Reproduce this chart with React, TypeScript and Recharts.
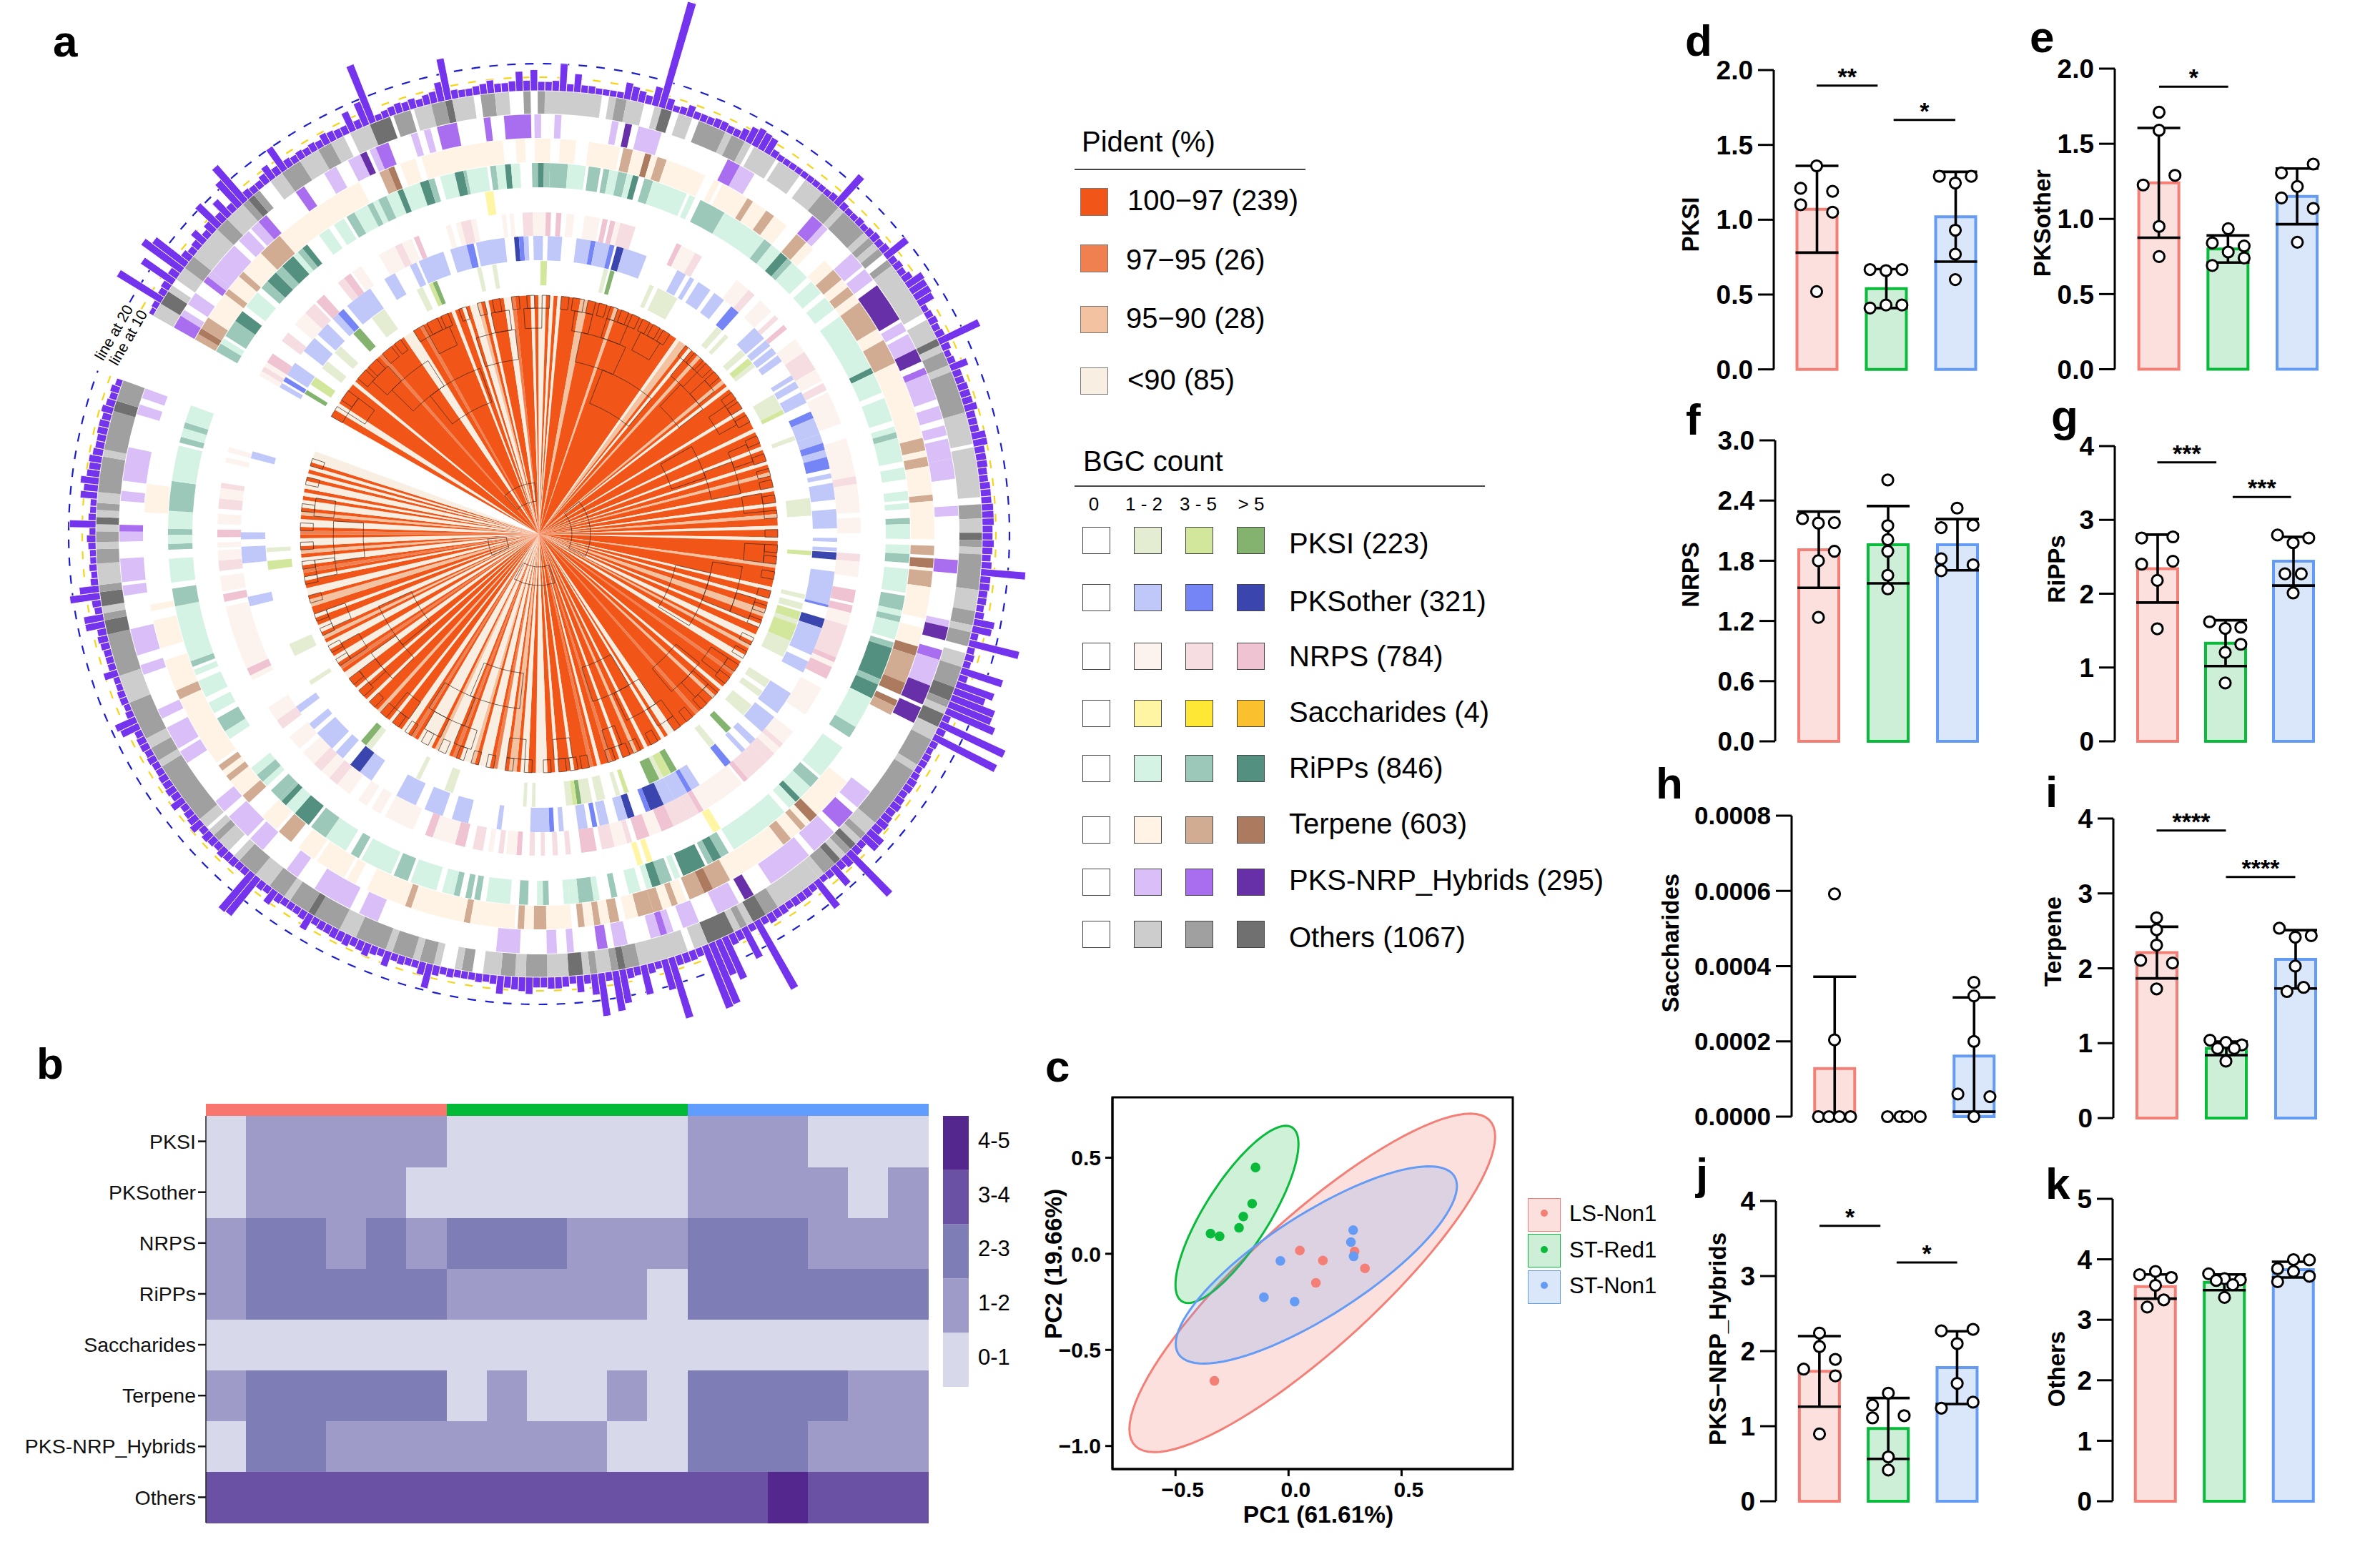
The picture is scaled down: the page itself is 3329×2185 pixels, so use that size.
import React from 'react';
import { PieChart, Pie, Cell, Sector, ComposedChart, Bar, Scatter, XAxis, YAxis, ErrorBar, ReferenceLine, ReferenceArea, ScatterChart, BarChart } from 'recharts';

const FONT = '"Liberation Sans", Arial, sans-serif';
const LEAVES = 378;
const START_ANGLE = 150.5;
const SWEEP = 350.8;

// ---------- panel a: tree tips (clockwise leaf ranges [from, to, level]) ----------
const pidentColors = ['#F15518', '#F08050', '#F3C2A0', '#F8EFE2'];
const pidentLabels = ['100−97 (239)', '97−95 (26)', '95−90 (28)', '<90 (85)'];

const treeSegs = [[2,4,3],[10,11,3],[20,21,1],[28,31,3],[33,34,1],[42,43,3],[45,46,3],[47,49,3],[49,50,2],[51,52,3],[56,58,3],[58,59,1],[63,64,3],[65,67,3],[68,69,3],[70,71,3],[76,78,2],[85,86,2],[103,104,3],[104,106,2],[107,108,3],[110,111,2],[119,120,2],[121,122,3],[128,129,3],[134,135,3],[139,140,3],[143,144,3],[146,147,2],[150,151,3],[154,155,3],[157,158,2],[160,161,3],[163,164,3],[170,171,2],[176,177,3],[179,180,3],[182,184,2],[186,187,3],[189,191,3],[192,193,2],[195,197,3],[200,201,1],[205,206,3],[208,209,2],[214,215,1],[222,224,3],[225,226,3],[230,231,3],[233,234,2],[237,238,3],[240,241,1],[243,244,3],[245,246,1],[250,251,3],[254,255,3],[257,260,3],[262,264,3],[265,267,2],[268,270,3],[270,271,1],[272,275,3],[276,277,2],[277,280,3],[281,282,1],[283,286,3],[286,287,2],[288,292,3],[293,294,1],[295,297,3],[300,301,3],[304,305,2],[308,309,3],[312,313,3],[316,318,3],[319,320,1],[321,323,3],[325,327,3],[328,329,2],[330,332,3],[334,335,3],[337,339,2],[340,342,3],[344,345,3],[346,347,1],[348,350,3],[351,352,2],[353,355,3],[356,357,1],[358,360,3],[361,362,2],[363,365,3],[366,367,3],[368,370,3],[371,372,3],[373,374,3],[375,378,3]];

// dendrogram branches, as leaf ranges
const dendroTips = [[0,3],[5,8],[12,15],[16,19],[21,24],[25,27],[31,34],[35,38],[39,41],[44,46],[49,51],[53,55],[58,60],[62,64],[66,68],[71,73],[74,77],[78,80],[81,83],[84,86],[87,89],[90,92],[93,95],[96,98],[99,101],[106,108],[109,112],[113,115],[116,118],[123,125],[126,128],[130,132],[136,138],[141,143],[145,147],[148,150],[152,154],[156,158],[161,163],[165,167],[168,170],[172,174],[177,179],[181,183],[185,187],[190,192],[194,196],[198,200],[202,204],[207,209],[211,213],[216,218],[220,222],[227,229],[232,234],[235,237],[239,241],[246,248],[249,251],[252,254],[256,258],[261,263],[266,268],[271,273],[275,277],[279,281],[284,286],[289,291],[294,296],[298,300],[302,304],[306,308],[310,312],[314,316],[320,322],[324,326],[329,331],[333,335],[338,340],[343,345],[347,349],[352,354],[357,359],[362,364],[369,371],[374,376]];
const dendroMid = [[3,8],[14,20],[34,40],[52,57],[61,66],[75,80],[84,90],[94,100],[108,113],[116,120],[125,131],[137,142],[151,156],[165,170],[180,186],[198,203],[207,212],[220,225],[236,240],[250,255],[263,268],[278,283],[287,292],[297,302],[311,316],[320,325],[330,335],[344,349],[361,366]];
const dendroDeepA = [[16,30],[46,58],[78,92],[112,122],[140,150],[172,186],[204,216],[222,232],[282,294],[308,318],[348,360]];
const dendroDeepB = [[24,44],[88,108],[130,142],[176,196],[226,240],[266,284],[314,330]];
const dendroRoot = [[20,60],[120,190],[240,290],[330,350]];

// ---------- panel a: BGC rings, [from, to, level] by leaf index ----------
const ringPKSI = [[1.5,2.5,3],[4,6,2],[8.5,10.5,1],[13,15,1],[19,21,3],[24.5,28,1],[36.5,38,1],[39.5,40.5,2],[40.5,41.5,3],[51,52,1],[54.5,55.5,1],[65.5,67,2],[80,81,1],[81.5,82.5,3],[91,92,1],[93,98,1],[109,110.5,1],[111.5,112.5,1],[116.5,118,1],[119,120.5,2],[120.5,121.5,1],[129,133,1],[133,134,2],[139.5,140.5,1],[154,158,1],[166,167,2],[176,177,1],[178,179.5,1],[180,182,2],[182,183,1],[183,187,2],[187,191,1],[197,199,1],[200,201.5,1],[204,207,1],[211,212.5,3],[216,217.5,1],[226.5,228,3],[228,230,2],[230,231,1],[231,233.5,3],[238.5,239.5,2],[240.5,241.5,1],[244,246,1],[247,249.5,1],[249.5,250.5,3],[250.5,251.5,2],[251.5,253,1],[260,260.8,1],[262,262.8,1],[279,281,1],[287,288,1],[300,301.5,1],[301.5,303,3],[320,321,1],[327.5,330.5,1],[348,350,2],[352,353,1]];
const ringPKSother = [[0,1,1],[1.5,2.5,2],[3,6,1],[9,12.5,1],[13.5,16.5,1],[18,19.5,1],[19.5,21,2],[22,28,1],[31.5,34,1],[37.5,39,1],[39.5,45,1],[46.5,50,1],[50,51.5,2],[52,58,1],[60,61,3],[61,62,2],[62,63,1],[64,66,1],[67,70,1],[73,76,1],[76,77,2],[77,80,1],[80,81,2],[81.5,83,3],[83,88,1],[95,97,1],[98,99,1],[100,103,1],[104,106.5,1],[108.5,110.5,2],[115,118,1],[118.5,120,1],[120.5,122,1],[122.5,124,1],[127.5,128.5,1],[129,130.5,1],[131.5,134,1],[136,137.5,2],[137.5,141,1],[141,143,1],[143,144.5,2],[144.5,146,1],[146,148.5,2],[149.5,150.5,1],[151.5,155,1],[157,161,1],[163,163.8,1],[165,165.8,1],[166,167.5,3],[170,177,1],[176,177.5,2],[180,182,3],[182,188,1],[189.5,192,1],[197,202,1],[203,207,1],[209,210.5,1],[212,213,1],[216,217.5,2],[224,226,1],[226,227,2],[227,230,1],[230,232.5,1],[232.5,235.5,3],[235.5,236.5,2],[239,240.5,3],[240.5,242.5,1],[244.5,246.5,1],[247,248,2],[249,251,1],[254,255,1],[256,257,2],[257,261,1],[267,268,1],[274,277.5,1],[279.5,283.5,1],[285.5,290,1],[296,299,1],[299,301.5,3],[303.5,305.5,1],[306.5,311,1],[312,313.5,1],[316.5,318,1],[341,343,1],[350,353.5,1],[355,356.5,1],[372,373.5,1]];
const ringNRPS = [[0,1,1],[1,2,2],[2,3,1],[3,5,3],[8,10,2],[12,15,1],[15,17.5,2],[18,20,3],[23.5,25,2],[25,26.5,3],[27,29,1],[33,36.5,1],[36.5,38,2],[38,40,1],[40.5,41.5,3],[47,48,1],[49,50,1],[50,52,2],[52,53,1],[58,58.8,1],[59.5,60.3,1],[62,64,2],[64,66.5,1],[66.5,67.5,3],[68.5,69.5,3],[70.5,72,1],[74,77,1],[77.5,78.5,3],[79,80,3],[80,81,1],[81,84,2],[92.5,93.5,3],[93.5,96.5,1],[96.5,98,2],[106,109,1],[109,110.5,2],[112,115,1],[116,117,2],[118.5,119.5,3],[122,125,1],[125,129,2],[129,131.5,1],[132,133.5,2],[134,140.5,1],[143.5,151,1],[151,152.5,2],[152.5,158,1],[159,162,1],[166,167.5,2],[167.5,170.5,1],[173,175.5,3],[176,177.5,3],[177.5,180,1],[180,186.5,2],[186.5,187.5,3],[187.5,188.5,1],[188.5,191,3],[193,199,1],[203,206,1],[206,207,2],[207,208.5,1],[208.5,210.5,2],[210.5,212,2],[212,215.5,2],[215.5,216.5,3],[217,226,1],[226,227,3],[227,229,2],[229,232.5,2],[232.5,235,3],[235,237.5,1],[237.5,240,3],[241,242,2],[242,244.5,1],[244.5,247,2],[248,251,3],[253,254,2],[255.5,256.5,2],[258,258.8,2],[260,261,2],[262.5,263.5,3],[263.5,265.5,1],[266,267,2],[268,269,1],[270,272,2],[273.5,275.5,3],[275.5,280,1],[280,281.5,3],[284,290,1],[291,293,1],[294,296,1],[298,301,1],[301,303,2],[303,305,1],[305,307,2],[307,310,1],[311,314,1],[316,318,2],[318,321,1],[327,328,1],[328,329.5,3],[329.5,331,1],[331,342,1],[343,344.5,3],[345,348,1],[349,351,2],[351,353,1],[353.5,354.5,1],[355.5,357,3],[358,360,1],[361,363,2],[363,365,1],[365,366,2],[370,371,1],[372,373,1]];
const ringSaccharides = [[55.5,57,1],[225,226.5,1],[238.5,239.5,1],[240.3,241.3,1]];
const ringRiPPs = [[0,1.5,2],[1.5,2.5,1],[3,6,2],[6,8,3],[9,12,1],[13,14.5,2],[14.5,16.5,3],[16.5,18,2],[18,20.5,3],[20.5,21.5,1],[21.5,22.5,2],[22.5,23.5,3],[26,28,1],[29,31,1],[31.5,33,2],[33,35.5,1],[35.5,36.5,2],[36.5,37.5,1],[37.5,39,2],[39,41,1],[41,42,3],[42,45,1],[45,46.5,3],[46.5,47.5,2],[48.5,51,1],[51,52.5,3],[52.5,53,2],[53,56.5,1],[57,58,2],[58,59.5,1],[59.5,60.5,3],[60.5,62,1],[64,65,2],[65,66,3],[66,67,2],[67,70,2],[70,73,1],[73.5,75.5,2],[76,77,2],[77,78.5,1],[78.5,80,2],[80,81,1],[81,82,3],[83,84.5,2],[84.5,90.5,1],[91,92,1],[93,97.5,2],[97.5,105.5,1],[105.5,107,2],[107,109,1],[109,110.5,3],[110.5,111.5,2],[111.5,115,1],[116,118.5,1],[119.5,122,1],[123.5,133.5,1],[133.5,134.5,3],[134.5,138,1],[139,143,1],[144,145,1],[145,146,2],[146,150,1],[151,153,1],[155,156.5,1],[157,158,1],[159.5,160.5,2],[160.5,163,1],[164,165.5,1],[165.5,167,2],[168,172,1],[172.5,175,2],[175,176,1],[176,177,2],[177,180,1],[180.5,181.5,2],[181.5,187,3],[187,188,2],[188,190.5,3],[190.5,196,1],[196,198,2],[200,206,1],[206.5,208.5,2],[208.5,211,1],[211,212,3],[212,213.5,1],[214.5,225,1],[226,227.5,2],[227.5,229,3],[229,230,2],[230.5,234.5,3],[235,236,1],[236.5,238.5,2],[238.5,240,3],[240,241,1],[242,244,1],[246,247,2],[249,250,1],[250,252.5,2],[252.5,254,1],[254,255,1],[257.5,258.5,2],[258.5,259.5,1],[261,262.5,2],[264,268,1],[269,270,2],[270.5,271.5,2],[272.5,273.5,2],[273.5,274.5,1],[274.5,275.5,1],[276.5,281,1],[281.5,284,2],[284.5,290,1],[290.5,292,2],[293,297,1],[297,300,2],[300.5,303.5,3],[303.5,305.5,1],[305.5,306.5,3],[306.5,307,2],[307,309,2],[310,311,1],[311,312.5,2],[312.5,314,1],[321.5,324,2],[320,321.5,1],[325,327,1],[328,331,1],[332,333,1],[333.5,334.5,2],[334.5,344,1],[344,347,2],[348,352,1],[353.5,354.5,2],[354.5,356,1],[356,357,2],[357,360,1],[360,365,2],[365,371,1],[371.5,372.5,2],[372.5,374,1],[374,375,2],[375,378,1]];
const ringTerpene = [[0,1,2],[1,2,3],[2,4,2],[4,8.5,1],[8.5,9.5,2],[9.5,12,1],[12,13,2],[13,17,1],[17,21,2],[21,36,1],[39.5,41,2],[41,42,3],[43,45.5,1],[46.5,58,1],[58,59.5,1],[61.5,63,1],[64.5,67,1],[68.5,71,1],[73,78,1],[78.5,80,2],[80,82,1],[82,83,3],[83,84,1],[84,85.5,2],[85.5,92,1],[93.5,94.5,1],[95,99.5,1],[99.5,100.5,2],[100.5,103,1],[103,104.5,2],[104.5,107,1],[109,111,2],[111,112.5,1],[115,117,1],[117,119,2],[119,120.5,1],[120.5,122,2],[122,123.5,1],[123.5,128.5,2],[128.5,130.5,1],[130.5,134.5,2],[134.5,136.5,1],[136.5,147,1],[147,149,2],[149,150,1],[150,151.5,2],[151.5,156,1],[156,157,2],[157,163,1],[164,165.5,2],[166,167.5,3],[167.5,168,1],[168,170.5,2],[170.5,175.5,1],[177,180,1],[180,181.5,3],[181.5,186,2],[186,188,3],[189,190,3],[190,191.5,2],[204,211,1],[211,212.5,3],[212.5,213.5,1],[213.5,214.5,2],[214.5,216.5,1],[216.5,218,2],[218,228,1],[228,231,2],[231,232.5,3],[232.5,235,2],[235.5,237,1],[237,238,2],[238,239.5,1],[239.5,241,2],[241,243.5,2],[243.5,245.5,1],[246.5,248,2],[248,249.5,1],[249.5,250.5,2],[250.5,252,1],[252,253,2],[254,258,1],[258,260,2],[260,261.5,1],[261.5,262.5,2],[263,270,1],[270,271,2],[271,279.5,1],[279.5,280.5,2],[280.5,287,1],[289,290.5,1],[291,296,1],[296.5,299.5,1],[301,303.5,2],[304,307,1],[310,311.5,2],[311.5,314.5,1],[314.5,315.5,2],[315.5,316.5,1],[316.5,317.5,2],[318,329.5,1],[329.5,331,2],[331,336,1],[338,342.5,1],[344,345,1],[359.5,364,1]];
const ringHybrids = [[0,2,2],[2,3,1],[4,6,1],[8,9,2],[9,10,1],[10,15,1],[16,18,1],[18.5,20,1],[20,21.5,2],[27,28.5,2],[32,34,1],[36,38,1],[38,39,3],[39.5,40.5,1],[40.5,42.5,2],[46,47,1],[48,49,1],[50,53,2],[57,58,2],[60,64,2],[64.5,65.5,1],[67.5,68.5,1],[76,77,1],[78,79,3],[80,83.5,1],[94,96,2],[96,98.5,1],[109,111,2],[111,112,1],[117,119.5,1],[120,122,1],[123,129,3],[129.5,131,1],[131.5,134,1],[134,136,3],[137,138,2],[138,142,1],[143,145,1],[146,147.5,1],[148,151,1],[151,154,1],[158,159.5,1],[166,168,2],[175,176,1],[176,178,3],[179.5,181,2],[181,185,1],[185,188,3],[188.5,191,3],[203,206,1],[207,210,2],[211,215,1],[216,223,1],[226,227.5,3],[228.5,232,1],[235,237.5,1],[239,240,1],[240,241,2],[241,242.5,1],[246,248,1],[249,250.5,2],[254,255,1],[256.5,258,1],[262,265.5,1],[283.5,286.5,1],[288,294,1],[297,299,1],[303.5,306,1],[306.5,310.5,1],[311.5,313.5,1],[320.5,322.5,1],[323,326.5,1],[328,329.5,1],[335,336.5,1],[338,342,1],[347,348.5,1],[349,352.5,1],[355,356.5,1],[356.5,357.5,2],[361,362.5,1],[364,369,1],[374,375.5,1],[376.5,378,1]];
const ringOthers = [[0,2,1],[2,4,3],[4,5,1],[6,8,1],[8,10,2],[10,15,1],[15,17,2],[17,20,1],[20,21,2],[21,22,3],[22,23,2],[25,27,1],[27,30,2],[30,33,1],[33,35,2],[35,37,1],[38,41,1],[41,44,3],[44.5,47,2],[47.5,50,1],[50,52,2],[52,53,3],[53,56,1],[57,59,2],[59,61,1],[63,64,2],[65,66,2],[66,74,1],[75,76,1],[76,77.5,2],[77.5,80,1],[81.5,82.5,1],[82.5,84,3],[85,87,1],[88,92,2],[92,93,1],[93,95,2],[95,96,1],[96.5,100,1],[100.5,104,1],[105,108,1],[108,111,2],[111,112,1],[112,116,2],[116,117,1],[117,118,2],[118,119,1],[119,120,2],[121,122,2],[122,130,1],[131,134,1],[134,135,3],[135,136,1],[136,138,2],[138,139,1],[139,145,2],[145,149.5,1],[150,157,1],[158,160,2],[160,162,1],[162,163,3],[163,164,2],[164,165,1],[165,170,2],[170,173,1],[173,175,2],[175,176,1],[176,178,2],[179,181,1],[181,184,2],[184,186,3],[186,187,2],[187,188,1],[188,190,3],[190,192,1],[192,196,2],[196,197,1],[197,206,2],[206,208,1],[208,209,2],[209,210,1],[210,211,3],[211,212,2],[212,213,1],[213,214,3],[214,216,2],[216,217,1],[217,224,1],[224,226,2],[226,228,3],[228,229,1],[229,230,2],[230,231,1],[231,235,3],[235,237,1],[238,245,1],[245,247,2],[247,248,3],[248,249,2],[249,251,1],[251,252,2],[252,253,1],[253,255,3],[255,258,1],[258,261,2],[261,262.5,1],[262.5,264.5,2],[264.5,267,1],[268.5,270,2],[270,271,1],[273,274,1],[274,276,2],[276,277,1],[277,280,2],[280,281,1],[281,285.5,2],[285.5,288,1],[288,292,2],[292,293,3],[293,296,2],[296,297,1],[297,299.5,2],[299.5,302,1],[302,305,2],[305,306,1],[307,309,1],[309,310,2],[310,311,1],[311.5,313,1],[313,322,2],[322,323,1],[323,325,2],[325,326.5,1],[326.5,332,2],[332,336,1],[336,342,2],[342,344,3],[344,345,2],[345,346,1],[346,348,3],[348,349,2],[349,352,1],[352,354,2],[354,355,1],[355,356.5,2],[356.5,357.5,1],[357.5,358.5,3],[358.5,359.5,1],[359.5,360.5,2],[360.5,362,1],[362,367,2],[367,368,1],[368,373.5,2],[373.5,375,3],[375,378,2]];

const barHeights = [
  4,5,39,6,7,29,8,37,31,8,6,7,12,6,9,23,8,16,7,25,
  35,7,6,6,8,12,7,21,7,6,7,6,7,6,9,8,7,7,16,7,
  19,47,5,6,7,8,7,8,6,8,9,15,32,7,6,6,7,8,10,7,
  7,8,15,8,16,7,7,8,21,6,14,6,6,5,5,5,5,13,11,9,
  7,15,83,9,5,6,9,6,6,6,7,7,6,6,9,13,15,14,13,6,
  5,5,5,5,5,5,5,5,5,6,29,6,5,5,6,5,6,7,6,7,
  21,6,7,6,8,15,14,14,13,5,6,7,6,7,34,7,5,6,14,7,
  7,8,8,8,10,7,7,7,11,11,8,8,8,7,7,8,8,8,9,9,
  9,8,8,9,8,7,8,34,8,8,7,7,6,7,16,15,6,39,6,7,
  6,33,7,30,25,35,35,40,6,54,7,53,6,5,6,6,5,6,7,7,
  6,7,8,7,8,9,8,14,14,6,7,45,9,7,18,6,5,26,6,7,
  7,7,6,7,7,8,6,59,6,26,8,9,35,29,50,51,7,8,8,8,
  48,24,6,8,23,7,8,26,31,7,33,16,7,13,6,8,9,9,8,8,
  13,11,10,9,14,7,6,7,6,6,6,7,6,8,19,10,6,6,7,6,
  12,6,7,10,8,7,9,8,8,7,7,6,13,7,6,6,6,7,12,6,
  7,36,37,6,6,7,7,8,6,7,8,6,10,8,7,6,11,7,8,7,
  7,6,6,7,6,7,7,6,15,17,6,5,6,6,5,5,11,6,6,6,
  7,8,7,15,15,6,7,23,15,6,5,6,5,5,6,7,5,20,6,5,
  5,13,11,14,10,9,10,8,7,7,8,8,7,9,7,6,7,5,
];

const rings = [
  { name: 'PKSI (223)', segs: ringPKSI, inner: 348, outer: 382, colors: ['#E4ECD2', '#D2E79B', '#83B36F'] },
  { name: 'PKSother (321)', segs: ringPKSother, inner: 383, outer: 417, colors: ['#BFC8F8', '#7585F5', '#3A45AE'] },
  { name: 'NRPS (784)', segs: ringNRPS, inner: 417, outer: 450, colors: ['#FCF3EF', '#F5DDE1', '#EFC3D2'] },
  { name: 'Saccharides (4)', segs: ringSaccharides, inner: 451, outer: 484, colors: ['#FFF5A3', '#FFE835', '#FBC02D'] },
  { name: 'RiPPs (846)', segs: ringRiPPs, inner: 485, outer: 519, colors: ['#D4F3E4', '#9BC8B9', '#54907F'] },
  { name: 'Terpene (603)', segs: ringTerpene, inner: 520, outer: 553, colors: ['#FFF3E5', '#D2AC92', '#AC7A5E'] },
  { name: 'PKS-NRP_Hybrids (295)', segs: ringHybrids, inner: 554, outer: 587, colors: ['#D9BEF8', '#A96EEF', '#6830A8'] },
  { name: 'Others (1067)', segs: ringOthers, inner: 588, outer: 620, colors: ['#CDCDCD', '#A0A0A0', '#707070'] },
];

function toRuns(segs: number[][]) {
  const sorted = [...segs].sort((a, b) => a[0] - b[0]);
  const out: { v: number; l: number }[] = [];
  let cursor = 0;
  for (const [from, to, level] of sorted) {
    const f = Math.max(from, cursor);
    if (to <= f) continue;
    if (f > cursor) out.push({ v: f - cursor, l: 0 });
    out.push({ v: to - f, l: level });
    cursor = to;
  }
  if (cursor < LEAVES) out.push({ v: LEAVES - cursor, l: 0 });
  return out;
}
const mark = (segs: number[][]) => toRuns(segs.map(([a, b]) => [a, b, 1]));

// tree fill: level 0 there is the dominant orange, so levels are offset
const treeRuns = toRuns(treeSegs.map(([a, b, c]) => [a, b, c + 1])).map((r) => ({ v: r.v, l: r.l === 0 ? 0 : r.l - 1 }));

const barData = barHeights.map((h, i) => ({ v: 1, h, i }));
const BASE_R = 620;
const PX_PER_UNIT = 1.85;

const polar = { cx: 754, cy: 747, startAngle: START_ANGLE, endAngle: START_ANGLE - SWEEP, isAnimationActive: false, dataKey: 'v', legendType: 'none' as const, paddingAngle: 0 };

const dendroLevels = [
  { d: dendroTips, a: 316, b: 334 },
  { d: dendroMid, a: 288, b: 316 },
  { d: dendroDeepA, a: 246, b: 288 },
  { d: dendroDeepB, a: 196, b: 246 },
  { d: dendroRoot, a: 46, b: 72 },
];

function guideArc(color: string, dash: string) {
  return (p: any) => {
    const rad = Math.PI / 180;
    const r = p.outerRadius;
    const x0 = p.cx + r * Math.cos(-p.startAngle * rad);
    const y0 = p.cy + r * Math.sin(-p.startAngle * rad);
    const x1 = p.cx + r * Math.cos(-p.endAngle * rad);
    const y1 = p.cy + r * Math.sin(-p.endAngle * rad);
    return <path d={`M${x0},${y0}A${r},${r} 0 1 1 ${x1},${y1}`} fill="none" stroke={color} strokeWidth={2.2} strokeDasharray={dash} />;
  };
}

function CircularTree() {
  return (
    <div style={{ position: 'absolute', left: 0, top: 0 }}>
      <PieChart width={1500} height={1500} margin={{ top: 0, left: 0, right: 0, bottom: 0 }}>
        <Pie {...polar} data={treeRuns} innerRadius={0} outerRadius={334} stroke="none">
          {treeRuns.map((r, i) => <Cell key={i} fill={pidentColors[r.l]} stroke="none" />)}
        </Pie>
        {dendroLevels.map((lv, k) => {
          const runs = mark(lv.d);
          return (
            <Pie key={k} {...polar} data={runs} innerRadius={lv.a} outerRadius={lv.b} fill="none" stroke="none">
              {runs.map((r, i) => <Cell key={i} fill="none" stroke={r.l ? '#3a2415' : 'none'} strokeWidth={0.7} />)}
            </Pie>
          );
        })}
        {rings.map((ring) => {
          const runs = toRuns(ring.segs);
          return (
            <Pie key={ring.name} {...polar} data={runs} innerRadius={ring.inner} outerRadius={ring.outer} stroke="none">
              {runs.map((r, i) => <Cell key={i} fill={r.l ? ring.colors[r.l - 1] : 'none'} stroke="none" />)}
            </Pie>
          );
        })}
        <Pie {...polar} data={[{ v: 1 }]} innerRadius={639} outerRadius={639} fill="none" stroke="none" shape={guideArc('#F7D417', '11 14')} />
        <Pie {...polar} data={[{ v: 1 }]} innerRadius={658} outerRadius={658} fill="none" stroke="none" shape={guideArc('#1D1DD0', '12 13')} />
        <Pie
          {...polar}
          data={barData}
          innerRadius={BASE_R}
          outerRadius={BASE_R + 10}
          fill="#7434EE"
          stroke="#fff"
          strokeWidth={0.9}
          shape={(p: any) => {
            const h = p.h ?? p.payload?.h ?? 0;
            return <Sector {...p} fill="#7434EE" stroke="#fff" strokeWidth={0.9} outerRadius={BASE_R + h * PX_PER_UNIT} />;
          }}
        />
      </PieChart>
    </div>
  );
}

// ---------- panels d–k ----------
const GROUPS = ['LS-Non1', 'ST-Red1', 'ST-Non1'];
const GROUP_STROKE = ['#F47F77', '#09BA3B', '#649BF5'];
const GROUP_FILL = ['#FCE0DE', '#CDEFD7', '#DAE7FB'];

const panelD = { title: 'PKSI', max: 2, ticks: [0, 0.5, 1, 1.5, 2], dec: 1, axisX: 2481, y0: 516.5, top: 97.8, xEnd: 2798, c0: 2541, band: 97, labelX: 2364, labelY: 314,
  mean: [1.07, 0.54, 1.02], low: [0.29, 0.13, 0.3], high: [0.29, 0.13, 0.3],
  pts: [[[0,1.36],[-0.23,1.21],[0.23,1.19],[-0.23,1.1],[0.23,1.05],[0,0.52]], [[-0.23,0.667],[0,0.66],[0.23,0.667],[-0.23,0.41],[0,0.43],[0.23,0.43]], [[-0.23,1.29],[0,1.245],[0.23,1.29],[0,0.93],[0,0.77],[0,0.6]]],
  sig: [[0,0.88,1.896,'**'],[1.11,2,1.667,'*']] };
const panelE = { title: 'PKSother', max: 2, ticks: [0, 0.5, 1, 1.5, 2], dec: 1, axisX: 2958, y0: 516.5, top: 96, xEnd: 3275.6, c0: 3020, band: 96.7, labelX: 2856, labelY: 312,
  mean: [1.24, 0.8, 1.15], low: [0.365, 0.09, 0.185], high: [0.365, 0.09, 0.185],
  pts: [[[0,1.71],[0,1.59],[0.23,1.29],[-0.23,1.226],[0,0.95],[0,0.75]], [[0,0.935],[-0.23,0.84],[0.23,0.82],[0,0.78],[-0.23,0.69],[0.23,0.74]], [[0.23,1.365],[-0.23,1.306],[0,1.216],[-0.23,1.14],[0.23,1.07],[0,0.845]]],
  sig: [[0,1,1.88,'*']] };
const panelF = { title: 'NRPS', max: 3, ticks: [0, 0.6, 1.2, 1.8, 2.4, 3], dec: 1, axisX: 2482.5, y0: 1037, top: 616, xEnd: 2800, c0: 2543, band: 97, labelX: 2364, labelY: 804,
  mean: [1.91, 1.96, 1.96], low: [0.38, 0.385, 0.255], high: [0.38, 0.385, 0.255],
  pts: [[[-0.23,2.22],[0,2.175],[0.23,2.18],[0.23,1.895],[0,1.8],[0,1.235]], [[0,2.605],[0,2.15],[0,2.01],[0,1.895],[0,1.655],[0,1.52]], [[0,2.325],[-0.23,2.13],[0.23,2.155],[-0.23,1.82],[0.23,1.76],[-0.23,1.7]]],
  sig: [] };
const panelG = { title: 'RiPPs', max: 4, ticks: [0, 1, 2, 3, 4], dec: 0, axisX: 2957.5, y0: 1037, top: 624, xEnd: 3269, c0: 3017, band: 95, labelX: 2876, labelY: 795.5,
  mean: [2.34, 1.33, 2.44], low: [0.46, 0.31, 0.33], high: [0.46, 0.31, 0.33],
  pts: [[[-0.23,2.755],[0.23,2.77],[-0.23,2.4],[0.23,2.44],[0,2.18],[0,1.525]], [[-0.23,1.62],[0,1.53],[0.23,1.545],[0.23,1.315],[0,1.205],[0,0.79]], [[-0.23,2.795],[0.23,2.755],[0,2.69],[-0.12,2.27],[0.12,2.27],[0,2.01]]],
  sig: [[0,0.87,3.78,'***'],[1.11,1.97,3.31,'***']] };
const panelH = { title: 'Saccharides', max: 0.0008, ticks: [0, 0.0002, 0.0004, 0.0006, 0.0008], dec: 4, axisX: 2506, y0: 1562, top: 1141, xEnd: 2823, c0: 2566, band: 97.5, labelX: 2336, labelY: 1318.6,
  mean: [0.000128, 0, 0.000161], low: [0.000128, 0, 0.000148], high: [0.000244, 0, 0.000156],
  pts: [[[0,0.000592],[0,0.000204],[-0.23,0],[-0.08,0],[0.07,0],[0.23,0]], [[-0.24,0],[-0.06,0],[0.04,0],[0.23,0]], [[0,0.000357],[0,0.000321],[0,0.0002],[-0.23,0.00006],[0.23,0.000053],[0,0]]],
  sig: [], fontSize: 35 };
const panelI = { title: 'Terpene', max: 4, ticks: [0, 1, 2, 3, 4], dec: 0, axisX: 2955.5, y0: 1564, top: 1145, xEnd: 3271, c0: 3016, band: 97, labelX: 2871, labelY: 1316.5,
  mean: [2.21, 0.93, 2.12], low: [0.345, 0.09, 0.39], high: [0.345, 0.09, 0.39],
  pts: [[[0,2.675],[0,2.515],[0,2.31],[-0.23,2.107],[0.23,2.07],[0,1.725]], [[-0.23,1.04],[0,1.01],[0.23,0.977],[-0.12,0.93],[0.12,0.93],[0,0.76]], [[-0.23,2.535],[0.23,2.435],[0,2.415],[0,2.03],[0.12,1.745],[-0.12,1.69]]],
  sig: [[0,1,3.84,'****'],[1,2,3.22,'****']] };
const panelJ = { title: 'PKS−NRP_Hybrids', max: 4, ticks: [0, 1, 2, 3, 4], dec: 0, axisX: 2484, y0: 2100, top: 1680, xEnd: 2800, c0: 2545, band: 96.3, labelX: 2402, labelY: 1873,
  mean: [1.73, 0.97, 1.78], low: [0.47, 0.405, 0.485], high: [0.47, 0.405, 0.485],
  pts: [[[0,2.24],[0,2.06],[0.23,1.89],[-0.23,1.76],[0.23,1.67],[0,0.896]], [[0,1.44],[-0.23,1.28],[-0.23,1.11],[0.23,1.14],[0,0.59],[0,0.415]], [[-0.23,2.27],[0.23,2.29],[0,2.1],[0,1.57],[0.23,1.32],[-0.23,1.24]]],
  sig: [[0,0.885,3.67,'*'],[1.12,2,3.18,'*']] };
const panelK = { title: 'Others', max: 5, ticks: [0, 1, 2, 3, 4, 5], dec: 0, axisX: 2955, y0: 2100, top: 1677, xEnd: 3271, c0: 3015, band: 96.5, labelX: 2876, labelY: 1915,
  mean: [3.55, 3.62, 3.83], low: [0.2, 0.13, 0.13], high: [0.2, 0.13, 0.13],
  pts: [[[0,3.8],[-0.23,3.745],[0.23,3.7],[0,3.57],[0.12,3.33],[-0.12,3.21]], [[-0.23,3.76],[0,3.68],[0.23,3.66],[-0.12,3.65],[0.12,3.58],[0,3.37]], [[0,3.995],[0.23,3.99],[-0.23,3.845],[0,3.8],[0.23,3.72],[-0.23,3.63]]],
  sig: [] };

function T({ x, y, size, weight, rotate, anchor, color, children }: any) {
  const tx = anchor === 'center' ? '-50%' : anchor === 'right' ? '-100%' : '0';
  return (
    <div style={{ position: 'absolute', left: x, top: y, transform: `translate(${tx},-50%) rotate(${rotate || 0}deg)`, fontFamily: FONT, fontSize: size, fontWeight: weight || 400, color: color || '#000', whiteSpace: 'nowrap', lineHeight: 1 }}>
      {children}
    </div>
  );
}

const MARGIN_L = 200;
const Dot = (p: any) => <circle cx={p.cx} cy={p.cy} r={7.6} fill="#fff" stroke="#000" strokeWidth={3} />;

function BarPanel({ c }: { c: any }) {
  const W = c.xEnd - c.axisX;
  const H = c.y0 - c.top;
  const offset = c.c0 - c.axisX;
  const rows = GROUPS.map((name, i) => ({ name, mean: c.mean[i], err: [c.low[i], c.high[i]] }));
  const pts = c.pts.flatMap((g: number[][], i: number) => g.map(([o, y]) => ({ x: i + o, y })));
  const padL = offset - c.band / 2;
  const padR = W - offset - 2.5 * c.band;
  const fs = c.fontSize || 37;
  return (
    <div style={{ position: 'absolute', left: c.axisX - MARGIN_L, top: c.top - 30 }}>
      <ComposedChart width={MARGIN_L + W + 10} height={H + 70} data={rows} margin={{ top: 30, right: 10, bottom: 40, left: 0 }}>
        <XAxis xAxisId="cat" dataKey="name" height={0} tick={false} tickLine={false} axisLine={{ stroke: '#000', strokeWidth: 3 }} padding={{ left: padL, right: padR }} />
        <XAxis xAxisId="pts" type="number" dataKey="x" hide domain={[-offset / c.band, (W - offset) / c.band]} />
        <YAxis width={MARGIN_L} type="number" domain={[0, c.max]} ticks={c.ticks} interval={0} tickSize={22} tickMargin={7}
          axisLine={{ stroke: '#000', strokeWidth: 3 }} tickLine={{ stroke: '#000', strokeWidth: 3 }}
          tick={{ fontFamily: FONT, fontSize: fs, fontWeight: 700, fill: '#000' }} tickFormatter={(v: number) => v.toFixed(c.dec)} />
        <Bar xAxisId="cat" dataKey="mean" barSize={56} isAnimationActive={false} strokeWidth={4}>
          {rows.map((_, i) => <Cell key={i} fill={GROUP_FILL[i]} stroke={GROUP_STROKE[i]} strokeWidth={4} />)}
          <ErrorBar dataKey="err" width={30} stroke="#000" strokeWidth={3.6} direction="y" isAnimationActive={false} />
        </Bar>
        <Scatter xAxisId="pts" data={pts} dataKey="y" isAnimationActive={false} shape={Dot} />
        {c.sig.map((s: any, i: number) => (
          <ReferenceLine key={i} xAxisId="pts" ifOverflow="visible" stroke="#000" strokeWidth={3}
            segment={[{ x: s[0], y: s[2] }, { x: s[1], y: s[2] }]}
            label={{ value: s[3], position: 'top', fontFamily: FONT, fontSize: 34, fontWeight: 700, fill: '#000', dy: 4 }} />
        ))}
      </ComposedChart>
    </div>
  );
}

// ---------- panel b ----------
const heatColors = ['#D8D8EB', '#9F9BC9', '#7F7DB6', '#6A51A3', '#54278F'];
const heatRows = ['PKSI', 'PKSother', 'NRPS', 'RiPPs', 'Saccharides', 'Terpene', 'PKS-NRP_Hybrids', 'Others'];
const heatPKSI = [0,1,1,1,1,1,0,0,0,0,0,0,1,1,1,0,0,0];
const heatPKSother = [0,1,1,1,1,0,0,0,0,0,0,0,1,1,1,1,0,1];
const heatNRPS = [1,2,2,1,2,1,2,2,2,1,1,1,2,2,2,1,1,1];
const heatRiPPs = [1,2,2,2,2,2,1,1,1,1,1,0,2,2,2,2,2,2];
const heatSaccharides = [0,0,0,0,0,0,0,0,0,0,0,0,0,0,0,0,0,0];
const heatTerpene = [1,2,2,2,2,2,0,1,0,0,1,0,2,2,2,2,1,1];
const heatHybrids = [0,2,2,1,1,1,1,1,1,1,0,0,2,2,2,1,1,1];
const heatOthers = [3,3,3,3,3,3,3,3,3,3,3,3,3,3,4,3,3,3];
const heatMatrix = [heatPKSI, heatPKSother, heatNRPS, heatRiPPs, heatSaccharides, heatTerpene, heatHybrids, heatOthers];
const heatCols = heatPKSI.map((_, i) => {
  const row: any = { col: `S${i + 1}` };
  heatRows.forEach((_, r) => { row[`r${r}`] = 1; });
  return row;
});
const heatTicks = [0.5, 1.5, 2.5, 3.5, 4.5, 5.5, 6.5, 7.5];
const annotColors = ['#F8766D', '#00BA38', '#619CFF'];
const annotRow = [{ k: 'group', a: 6, b: 6, c: 6 }];
const scaleLabels = ['0-1', '1-2', '2-3', '3-4', '4-5'];
const scaleRow = [{ k: 'scale', s0: 1, s1: 1, s2: 1, s3: 1, s4: 1 }];

function Heatmap() {
  return (
    <>
      <div style={{ position: 'absolute', left: 288, top: 1544 }}>
        <BarChart width={1011} height={17} data={annotRow} layout="vertical" margin={{ top: 0, right: 0, bottom: 0, left: 0 }} barCategoryGap={0}>
          <XAxis type="number" hide domain={[0, 18]} />
          <YAxis type="category" dataKey="k" hide />
          {['a', 'b', 'c'].map((k, i) => <Bar key={k} dataKey={k} stackId="s" fill={annotColors[i]} isAnimationActive={false} />)}
        </BarChart>
      </div>
      <div style={{ position: 'absolute', left: 0, top: 1561 }}>
        <BarChart width={1300} height={570} data={heatCols} margin={{ top: 0, right: 1, bottom: 1, left: 0 }} barCategoryGap={0} barGap={0}>
          <XAxis dataKey="col" height={0} tick={false} tickLine={false} axisLine={{ stroke: '#222', strokeWidth: 1.5 }} />
          <YAxis width={288} type="number" domain={[0, 8]} ticks={heatTicks} interval={0} tickSize={11} tickMargin={3}
            axisLine={{ stroke: '#222', strokeWidth: 1.5 }} tickLine={{ stroke: '#111', strokeWidth: 2.5 }}
            tick={{ fontFamily: FONT, fontSize: 28.5, fill: '#111' }}
            tickFormatter={(v: number) => heatRows[7 - Math.floor(v)]} />
          {[7, 6, 5, 4, 3, 2, 1, 0].map((r) => (
            <Bar key={r} dataKey={`r${r}`} stackId="h" isAnimationActive={false}>
              {heatMatrix[r].map((lv, i) => <Cell key={i} fill={heatColors[lv]} stroke={heatColors[lv]} strokeWidth={1} shapeRendering="crispEdges" />)}
            </Bar>
          ))}
        </BarChart>
      </div>
      <div style={{ position: 'absolute', left: 1319, top: 1561 }}>
        <BarChart width={110} height={379} data={scaleRow} margin={{ top: 0, right: 74, bottom: 0, left: 0 }} barCategoryGap={0}>
          <XAxis dataKey="k" hide />
          <YAxis type="number" hide domain={[0, 5]} />
          {scaleLabels.map((_, i) => <Bar key={i} dataKey={`s${i}`} stackId="c" fill={heatColors[i]} isAnimationActive={false} />)}
        </BarChart>
      </div>
      {scaleLabels.map((s, i) => <T key={s} x={1368} y={1898 - i * 75.8} size={31}>{s}</T>)}
    </>
  );
}

// ---------- panel c ----------
const pcaLS = [{ x: -0.328, y: -0.661 }, { x: 0.05, y: 0.017 }, { x: 0.152, y: -0.035 }, { x: 0.121, y: -0.151 }, { x: 0.292, y: 0.012 }, { x: 0.338, y: -0.076 }];
const pcaRed = [{ x: -0.146, y: 0.449 }, { x: -0.161, y: 0.261 }, { x: -0.2, y: 0.194 }, { x: -0.219, y: 0.135 }, { x: -0.345, y: 0.105 }, { x: -0.305, y: 0.091 }];
const pcaNon = [{ x: 0.286, y: 0.123 }, { x: 0.276, y: 0.061 }, { x: 0.288, y: -0.013 }, { x: -0.036, y: -0.037 }, { x: -0.109, y: -0.226 }, { x: 0.027, y: -0.249 }];
// confidence ellipses: bounding box in data units and the correlation that tilts them
const ellipses = [
  { x1: -0.704, x2: 0.914, y1: -1.032, y2: 0.729, rho: 0.864, g: 0 },
  { x1: -0.5, x2: 0.044, y1: -0.256, y2: 0.666, rho: 0.794, g: 1 },
  { x1: -0.499, x2: 0.745, y1: -0.571, y2: 0.455, rho: 0.8, g: 2 },
];

function ellipseShape(rho: number, stroke: string, fill: string) {
  return (p: any) => {
    const phi = Math.acos(rho);
    const a = p.width / 2;
    const b = p.height / 2;
    const cx = p.x + a;
    const cy = p.y + b;
    let d = '';
    for (let i = 0; i <= 96; i++) {
      const t = (i / 96) * Math.PI * 2;
      d += `${i ? 'L' : 'M'}${cx + a * Math.cos(t)},${cy - b * Math.cos(t - phi)}`;
    }
    return <path d={d + 'Z'} fill={fill} stroke={stroke} strokeWidth={3} />;
  };
}

function Pca() {
  const tick = { fontFamily: FONT, fontSize: 30, fontWeight: 700, fill: '#000' };
  const axis = { stroke: '#000', strokeWidth: 3 };
  return (
    <div style={{ position: 'absolute', left: 1456, top: 1525 }}>
      <ScatterChart width={680} height={580} margin={{ top: 10, right: 20, bottom: 0, left: 0 }}>
        <XAxis type="number" dataKey="x" domain={[-0.779, 0.992]} ticks={[-0.5, 0, 0.5]} height={50} tickSize={10} tickMargin={8} allowDataOverflow
          axisLine={axis} tickLine={axis} tick={{ ...tick, dx: 10 }} tickFormatter={(v: number) => (v < 0 ? '−' : '') + Math.abs(v).toFixed(1)} />
        <YAxis type="number" dataKey="y" domain={[-1.12, 0.814]} ticks={[-1, -0.5, 0, 0.5]} width={100} tickSize={10} tickMargin={6} allowDataOverflow
          axisLine={axis} tickLine={axis} tick={tick} tickFormatter={(v: number) => (v < 0 ? '−' : '') + Math.abs(v).toFixed(1)} />
        <ReferenceArea x1={-0.779} x2={0.992} y1={-1.12} y2={0.814} fill="none" stroke="#000" strokeWidth={3} ifOverflow="visible" />
        <Scatter data={pcaLS} fill={GROUP_STROKE[0]} isAnimationActive={false} shape={(p: any) => <circle cx={p.cx} cy={p.cy} r={6.8} fill={GROUP_STROKE[0]} />} />
        <Scatter data={pcaRed} fill={GROUP_STROKE[1]} isAnimationActive={false} shape={(p: any) => <circle cx={p.cx} cy={p.cy} r={6.8} fill={GROUP_STROKE[1]} />} />
        <Scatter data={pcaNon} fill={GROUP_STROKE[2]} isAnimationActive={false} shape={(p: any) => <circle cx={p.cx} cy={p.cy} r={6.8} fill={GROUP_STROKE[2]} />} />
        {ellipses.map((e) => (
          <ReferenceArea key={e.g} x1={e.x1} x2={e.x2} y1={e.y1} y2={e.y2} ifOverflow="visible"
            shape={ellipseShape(e.rho, GROUP_STROKE[e.g], e.g === 0 ? 'rgba(244,127,119,0.24)' : e.g === 1 ? 'rgba(9,186,59,0.2)' : 'rgba(100,155,245,0.2)')} />
        ))}
      </ScatterChart>
    </div>
  );
}

// ---------- legends ----------
const pidentRows = [{ y: 263, h: 38.5, t: 280, x: 1577 }, { y: 342, h: 39, t: 363, x: 1575 }, { y: 428, h: 38, t: 445, x: 1575 }, { y: 514, h: 38, t: 531, x: 1577 }];
const bgcRowTop = [737, 817, 899, 979, 1056, 1142, 1215, 1288];
const bgcTextY = [760, 841, 918, 996, 1074, 1152, 1231, 1311];
const bgcColX = [1513.5, 1586, 1658, 1730];
const bgcHead = [{ t: '0', x: 1530 }, { t: '1 - 2', x: 1600 }, { t: '3 - 5', x: 1676 }, { t: '> 5', x: 1750 }];
const legendC = [{ top: 1675.5, textY: 1697, name: 'LS-Non1' }, { top: 1726, textY: 1748, name: 'ST-Red1' }, { top: 1777, textY: 1798, name: 'ST-Non1' }];

function Swatch({ x, y, w, h, fill, border }: any) {
  return <div style={{ position: 'absolute', left: x, top: y, width: w, height: h, background: fill, border: `1.5px solid ${border || '#444'}`, boxSizing: 'border-box' }} />;
}

function Legends() {
  return (
    <>
      <T x={1513} y={198} size={40}>Pident (%)</T>
      <div style={{ position: 'absolute', left: 1503, top: 236, width: 323, height: 2, background: '#444' }} />
      {pidentRows.map((r, i) => (
        <React.Fragment key={i}>
          <Swatch x={1511} y={r.y} w={39} h={r.h} fill={pidentColors[i]} border="#777" />
          <T x={r.x} y={r.t} size={40}>{pidentLabels[i]}</T>
        </React.Fragment>
      ))}
      <T x={1515} y={645} size={40}>BGC count</T>
      <div style={{ position: 'absolute', left: 1503, top: 679, width: 574, height: 2, background: '#444' }} />
      {bgcHead.map((h) => <T key={h.t} x={h.x} y={705} size={26} anchor="center">{h.t}</T>)}
      {rings.map((ring, i) => (
        <React.Fragment key={ring.name}>
          {['#fff', ...ring.colors].map((c, j) => <Swatch key={j} x={bgcColX[j]} y={bgcRowTop[i]} w={39} h={38} fill={c} />)}
          <T x={1803} y={bgcTextY[i]} size={40}>{ring.name}</T>
        </React.Fragment>
      ))}
      <T x={159} y={465} size={21} rotate={-60} anchor="center">line at 20</T>
      <T x={179} y={472} size={21} rotate={-60} anchor="center">line at 10</T>
    </>
  );
}

const panelLetters = [
  { t: 'a', x: 74, y: 58 }, { t: 'b', x: 51, y: 1488 }, { t: 'c', x: 1462, y: 1492 },
  { t: 'd', x: 2357, y: 57 }, { t: 'e', x: 2839, y: 52 }, { t: 'f', x: 2358, y: 587 }, { t: 'g', x: 2869, y: 582 },
  { t: 'h', x: 2316, y: 1096 }, { t: 'i', x: 2861, y: 1108 }, { t: 'j', x: 2372, y: 1642 }, { t: 'k', x: 2861, y: 1656 },
];
const barPanels = [panelD, panelE, panelF, panelG, panelH, panelI, panelJ, panelK];

export default function App() {
  return (
    <div style={{ position: 'absolute', left: 0, top: 0, width: 3329, height: 2185, background: '#fff', overflow: 'hidden' }}>
      <CircularTree />
      <Legends />
      <Heatmap />
      <Pca />
      <T x={1474} y={1768} size={33.5} weight={700} rotate={-90} anchor="center">PC2 (19.66%)</T>
      <T x={1844} y={2119} size={33.5} weight={700} anchor="center">PC1 (61.61%)</T>
      {legendC.map((l, i) => (
        <React.Fragment key={l.name}>
          <Swatch x={2137} y={l.top} w={46} h={47} fill={GROUP_FILL[i]} border={GROUP_STROKE[i]} />
          <div style={{ position: 'absolute', left: 2155, top: l.textY - 5, width: 10, height: 10, borderRadius: 5, background: GROUP_STROKE[i] }} />
          <T x={2195} y={l.textY} size={31}>{l.name}</T>
        </React.Fragment>
      ))}
      {barPanels.map((c) => (
        <React.Fragment key={c.title}>
          <BarPanel c={c} />
          <T x={c.labelX} y={c.labelY} size={33} weight={700} rotate={-90} anchor="center">{c.title}</T>
        </React.Fragment>
      ))}
      {panelLetters.map((l) => <T key={l.t} x={l.x} y={l.y} size={62} weight={700}>{l.t}</T>)}
    </div>
  );
}
